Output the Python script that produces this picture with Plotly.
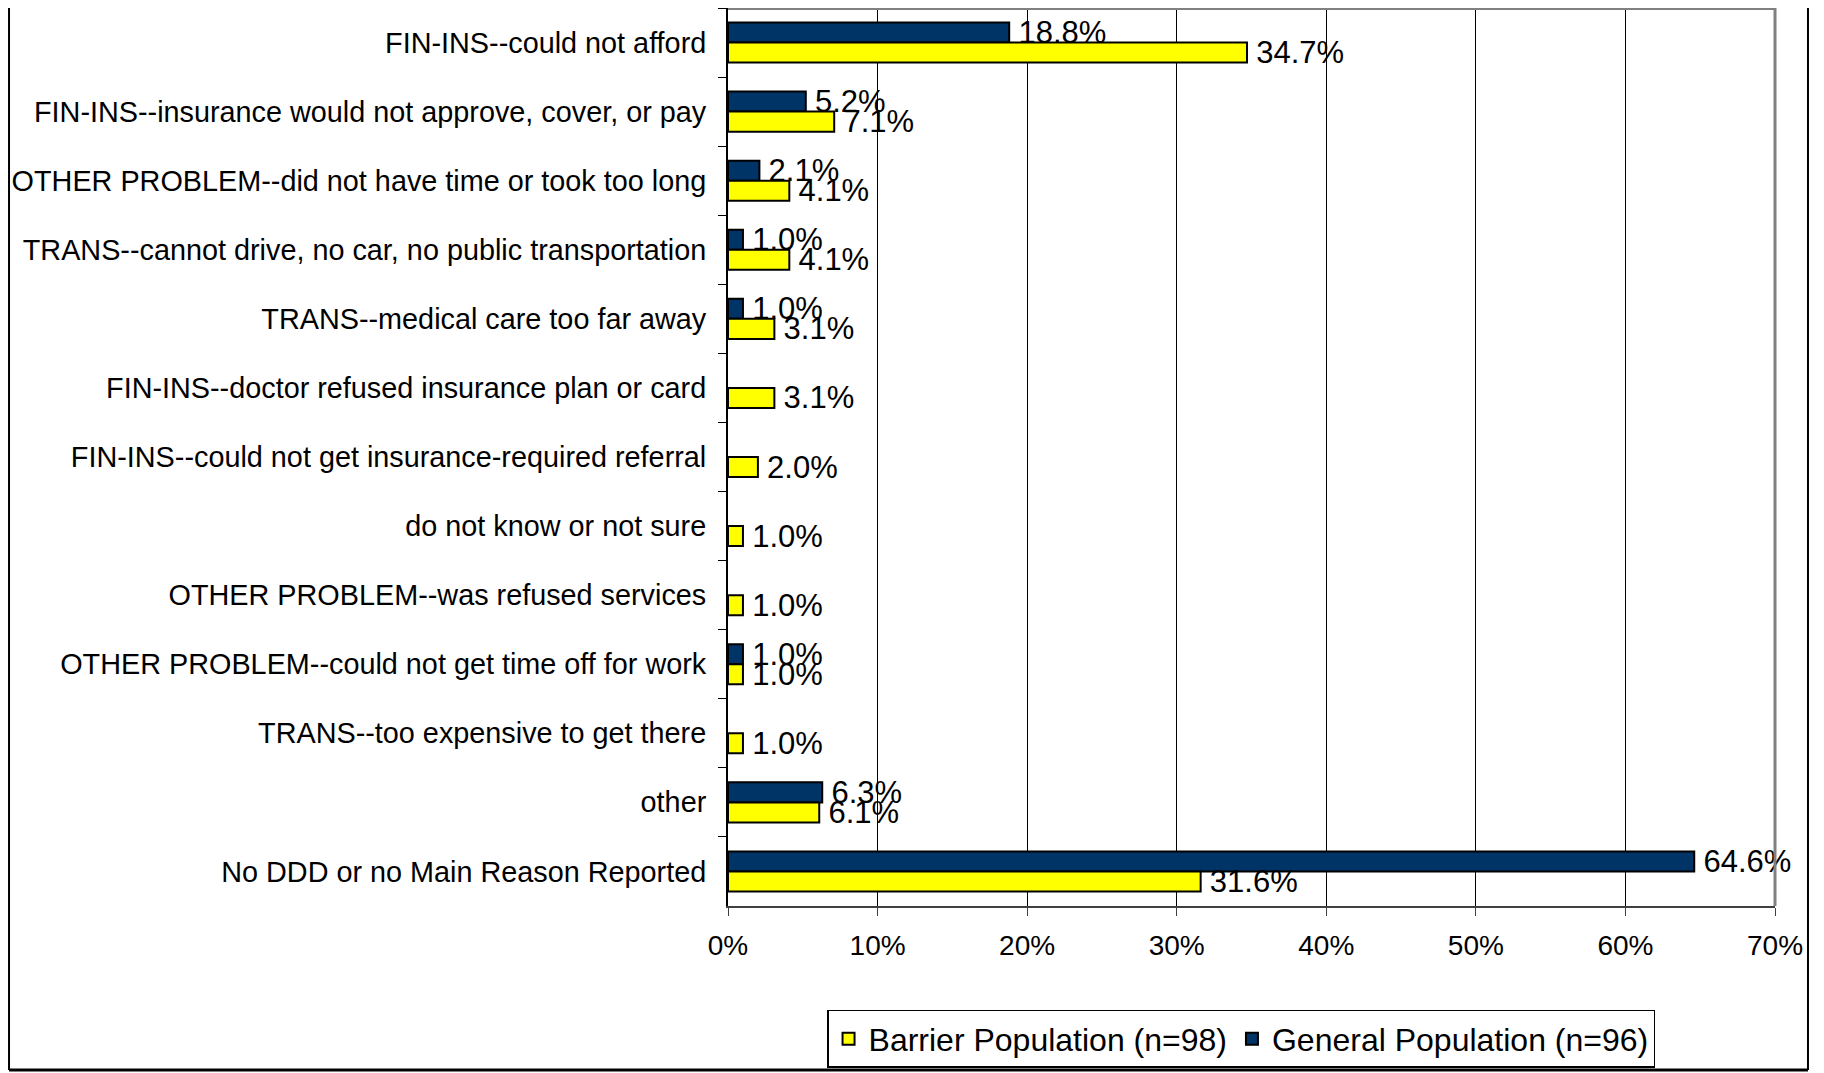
import plotly.graph_objects as go

categories = [
    "FIN-INS--could not afford",
    "FIN-INS--insurance would not approve, cover, or pay",
    "OTHER PROBLEM--did not have time or took too long",
    "TRANS--cannot drive, no car, no public transportation",
    "TRANS--medical care too far away",
    "FIN-INS--doctor refused insurance plan or card",
    "FIN-INS--could not get insurance-required referral",
    "do not know or not sure",
    "OTHER PROBLEM--was refused services",
    "OTHER PROBLEM--could not get time off for work",
    "TRANS--too expensive to get there",
    "other",
    "No DDD or no Main Reason Reported",
]
general_pop = [18.8, 5.2, 2.1, 1.0, 1.0, None, None, None, None, 1.0, None, 6.3, 64.6]
barrier_pop = [34.7, 7.1, 4.1, 4.1, 3.1, 3.1, 2.0, 1.0, 1.0, 1.0, 1.0, 6.1, 31.6]
x_ticks = [0, 10, 20, 30, 40, 50, 60, 70]
x_tick_text = ["0%", "10%", "20%", "30%", "40%", "50%", "60%", "70%"]
series_names = ["General Population (n=96)", "Barrier Population (n=98)"]

FONT = "Liberation Sans, Arial, sans-serif"

def labels(vals):
    return [None if v is None else "\u2009" + f"{v:.1f}%" for v in vals]

fig = go.Figure()
fig.add_trace(go.Bar(
    y=categories, x=general_pop, orientation="h", name=series_names[0],
    marker=dict(color="#003366", line=dict(color="#000000", width=2)),
    text=labels(general_pop), textposition="outside", cliponaxis=False,
    constraintext="none", textfont=dict(size=31, color="#000000", family=FONT),
))
fig.add_trace(go.Bar(
    y=categories, x=barrier_pop, orientation="h", name=series_names[1],
    marker=dict(color="#FFFF00", line=dict(color="#000000", width=2)),
    text=labels(barrier_pop), textposition="outside", cliponaxis=False,
    constraintext="none", textfont=dict(size=31, color="#000000", family=FONT),
))

# page body has an 8px margin: figure is laid out in div coordinates
fig.update_layout(
    width=1816, height=1065,
    margin=dict(l=720, r=49, t=0, b=167),
    paper_bgcolor="#FFFFFF", plot_bgcolor="#FFFFFF",
    barmode="group", bargap=0.42, bargroupgap=0,
    font=dict(family=FONT, color="#000000", size=29),
    showlegend=True,
    legend=dict(
        orientation="h", traceorder="reversed",
        x=0.0946, y=-0.1158, xanchor="left", yanchor="top",
        bordercolor="#000000", borderwidth=1.5, bgcolor="#FFFFFF",
        font=dict(size=32, family=FONT, color="#000000"),
        itemwidth=30,
    ),
    xaxis=dict(
        range=[0, 70], tickmode="array", tickvals=x_ticks, ticktext=x_tick_text,
        showgrid=True, gridcolor="#000000", gridwidth=1,
        showline=True, linecolor="#404040", linewidth=2,
        ticks="outside", ticklen=8, tickcolor="#404040", tickwidth=1,
        tickfont=dict(size=28, family=FONT, color="#000000"),
        ticklabelstandoff=5, zeroline=False, fixedrange=True,
    ),
    yaxis=dict(
        categoryorder="array", categoryarray=categories,
        autorange="reversed", tickson="boundaries",
        showline=True, linecolor="#000000", linewidth=2,
        ticks="outside", ticklen=8, tickcolor="#000000", tickwidth=1,
        tickfont=dict(size=28.8, family=FONT, color="#000000"),
        ticklabelstandoff=14, showgrid=False, zeroline=False,
    ),
    shapes=[
        dict(type="line", xref="paper", yref="paper", x0=0, x1=1, y0=1, y1=1,
             line=dict(color="#808080", width=4)),
        dict(type="line", xref="paper", yref="paper", x0=1, x1=1, y0=0, y1=1,
             line=dict(color="#808080", width=3)),
        # outer chart frame (left, right, bottom)
        dict(type="line", xref="paper", yref="paper", x0=-0.6867, x1=-0.6867, y0=-0.1826, y1=1.02,
             line=dict(color="#000000", width=2)),
        dict(type="line", xref="paper", yref="paper", x0=1.0315, x1=1.0315, y0=-0.1826, y1=1.02,
             line=dict(color="#000000", width=2)),
        dict(type="line", xref="paper", yref="paper", x0=-0.6867, x1=1.0315, y0=-0.1826, y1=-0.1826,
             line=dict(color="#000000", width=3)),
    ],
)

fig.write_html("out.html")
